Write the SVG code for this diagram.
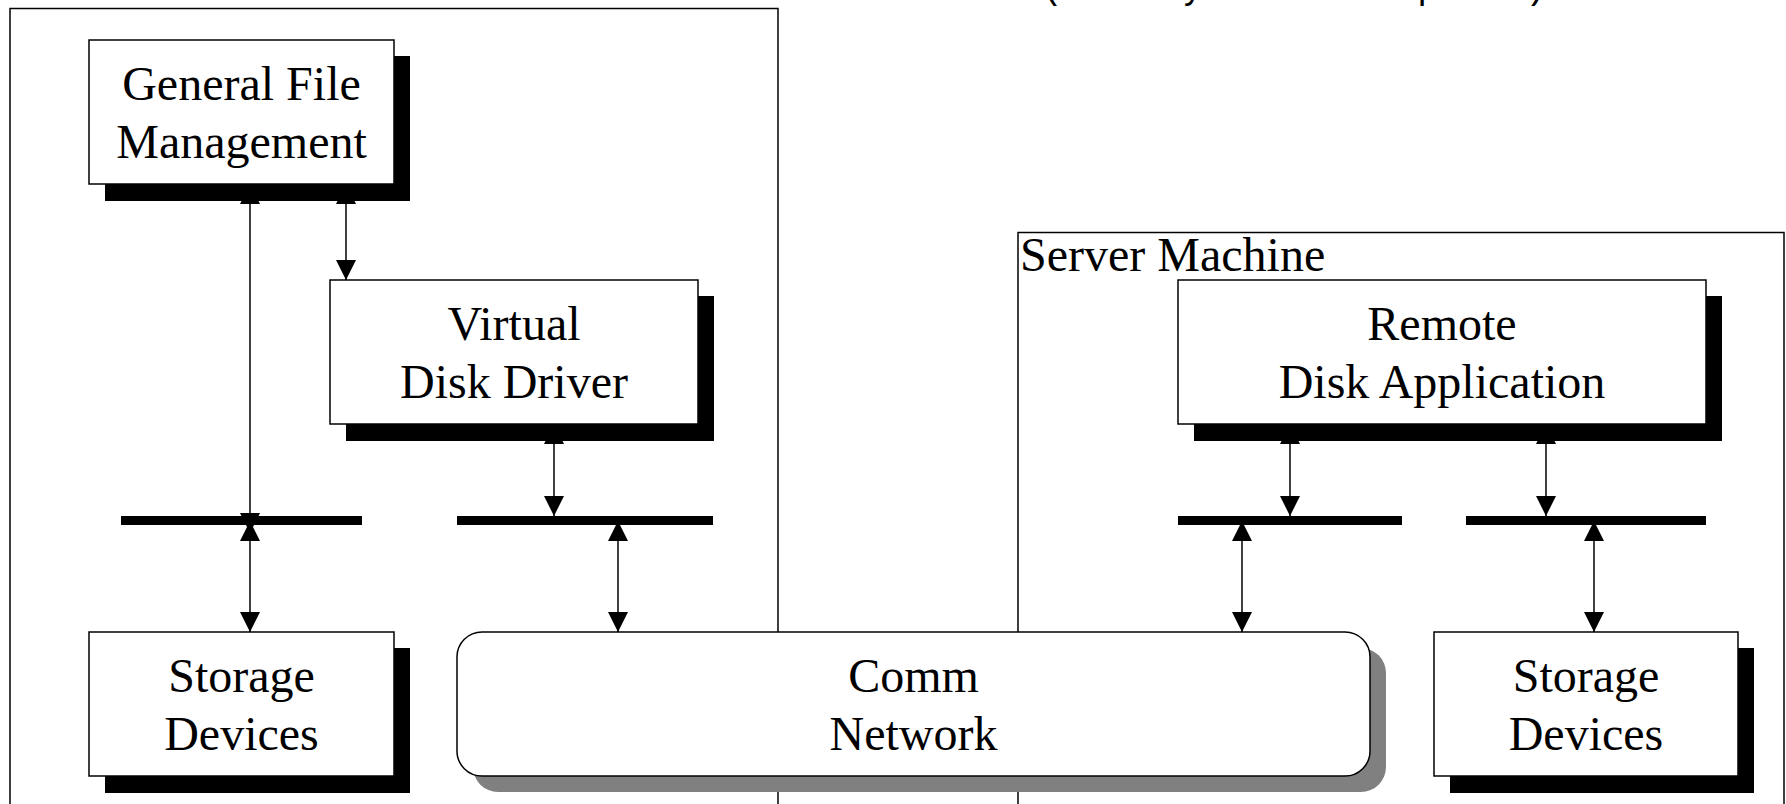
<svg xmlns="http://www.w3.org/2000/svg" width="1786" height="804" viewBox="0 0 1786 804">
<style>
.frame{fill:none;stroke:#000;stroke-width:1.5}
.box{fill:#fff;stroke:#000;stroke-width:1.5}
.shadow{fill:#000}
.cshadow{fill:#808080}
.lbl{font-family:"Liberation Serif","Times New Roman",serif;font-size:48px;fill:#000;text-anchor:middle}
.title{font-family:"Liberation Serif","Times New Roman",serif;font-size:48px;fill:#000}
.mono{font-family:"Liberation Mono","Courier New",monospace;font-size:36px;fill:#000;text-anchor:middle}
.wire{stroke:#000;stroke-width:1.5;fill:none;marker-start:url(#ah);marker-end:url(#ah)}
.bar{fill:#000}
</style>
<defs>
<marker id="ah" markerUnits="userSpaceOnUse" markerWidth="20" markerHeight="20" viewBox="0 0 19 19" refX="19" refY="9.5" orient="auto-start-reverse">
<path d="M0,0 L19,9.5 L0,19 z" fill="#000"/>
</marker>
</defs>
<rect width="1786" height="804" fill="#fff"/>
<text class="mono" y="-2"><tspan x="1052">(</tspan><tspan x="1193">y</tspan><tspan x="1428">p</tspan><tspan x="1536">)</tspan></text>
<g id="client-machine">
<rect class="frame" x="10" y="8.5" width="768" height="820"/>
</g>
<g id="server-machine">
<rect class="frame" x="1018" y="232.5" width="766" height="600"/>
<text class="title" x="1020" y="271">Server Machine</text>
</g>
<g id="connectors">
<line class="wire" x1="250" y1="184" x2="250" y2="533"/>
<line class="wire" x1="250" y1="521" x2="250" y2="632"/>
<line class="wire" x1="346" y1="184" x2="346" y2="280"/>
<line class="wire" x1="554" y1="424" x2="554" y2="516"/>
<line class="wire" x1="618" y1="521" x2="618" y2="632"/>
<line class="wire" x1="1290" y1="424" x2="1290" y2="516"/>
<line class="wire" x1="1546" y1="424" x2="1546" y2="516"/>
<line class="wire" x1="1242" y1="521" x2="1242" y2="632"/>
<line class="wire" x1="1594" y1="521" x2="1594" y2="632"/>
</g>
<g id="buses">
<rect class="bar" x="121" y="516" width="241" height="9"/>
<rect class="bar" x="457" y="516" width="256" height="9"/>
<rect class="bar" x="1178" y="516" width="224" height="9"/>
<rect class="bar" x="1466" y="516" width="240" height="9"/>
</g>
<g id="general-file-management">
<rect class="shadow" x="105" y="56" width="305" height="145"/>
<rect class="box" x="89" y="40" width="305" height="144"/>
<text class="lbl" x="241.5" y="100">General File</text>
<text class="lbl" x="241.5" y="158">Management</text>
</g>
<g id="virtual-disk-driver">
<rect class="shadow" x="346" y="296" width="368" height="145"/>
<rect class="box" x="330" y="280" width="368" height="144"/>
<text class="lbl" x="514" y="340">Virtual</text>
<text class="lbl" x="514" y="398">Disk Driver</text>
</g>
<g id="remote-disk-application">
<rect class="shadow" x="1194" y="296" width="528" height="145"/>
<rect class="box" x="1178" y="280" width="528" height="144"/>
<text class="lbl" x="1442" y="340">Remote</text>
<text class="lbl" x="1442" y="398">Disk Application</text>
</g>
<g id="storage-devices-left">
<rect class="shadow" x="105" y="648" width="305" height="145"/>
<rect class="box" x="89" y="632" width="305" height="144"/>
<text class="lbl" x="241.5" y="692">Storage</text>
<text class="lbl" x="241.5" y="750">Devices</text>
</g>
<g id="comm-network">
<rect class="cshadow" x="473" y="648" width="913" height="144" rx="25" ry="25"/>
<rect class="box" x="457" y="632" width="913" height="144" rx="25" ry="25"/>
<text class="lbl" x="913.5" y="692">Comm</text>
<text class="lbl" x="913.5" y="750">Network</text>
</g>
<g id="storage-devices-right">
<rect class="shadow" x="1450" y="648" width="304" height="145"/>
<rect class="box" x="1434" y="632" width="304" height="144"/>
<text class="lbl" x="1586" y="692">Storage</text>
<text class="lbl" x="1586" y="750">Devices</text>
</g>
</svg>
